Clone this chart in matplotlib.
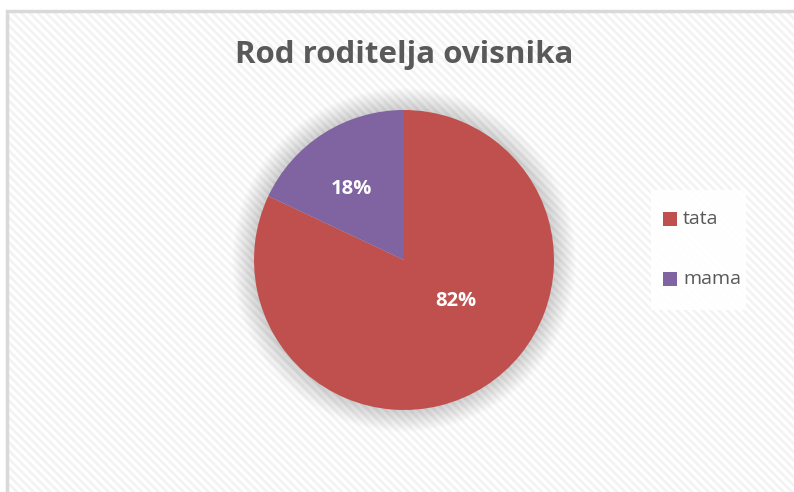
import matplotlib.pyplot as plt
from matplotlib.patches import Rectangle, Circle

labels = ['tata', 'mama']
values = [82, 18]
colors = ['#C0504D', '#8064A2']
title = 'Rod roditelja ovisnika'

plt.rcParams['font.family'] = ['Open Sans', 'DejaVu Sans']
plt.rcParams['hatch.linewidth'] = 2.0

fig = plt.figure(figsize=(7.94, 4.92), dpi=100)
ax = fig.add_axes([0, 0, 1, 1])
ax.set_xlim(0, 794)
ax.set_ylim(0, 492)
ax.axis('off')

# chart area with faint diagonal pattern and grey border
ax.add_patch(Rectangle((7, -10), 800, 492 - 11 + 10, facecolor='white',
                       edgecolor='#f3f3f3', linewidth=0, hatch='\\\\\\\\', zorder=0))
ax.add_patch(Rectangle((7, -10), 800, 492 - 11 + 10, facecolor='none',
                       edgecolor='#d9d9d9', linewidth=2.5, zorder=1))

cx, cy, r = 404, 232, 150

# soft shadow around pie
for i in range(24):
    ax.add_patch(Circle((cx, cy), r + 22 - i, facecolor='#000000',
                        alpha=0.009, edgecolor='none', zorder=2))

wedges, texts, autotexts = ax.pie(values, colors=colors, startangle=90,
                                  counterclock=False, center=(cx, cy), radius=r,
                                  autopct='%d%%', pctdistance=0.6,
                                  wedgeprops=dict(linewidth=0, zorder=3),
                                  textprops=dict(color='white', fontsize=14.5,
                                                 fontweight='bold'))
for t in autotexts:
    t.set_zorder(5)
autotexts[0].set_position((456, 492 - 301))
autotexts[1].set_position((351, 492 - 189))
ax.set_xlim(0, 794)
ax.set_ylim(0, 492)
ax.set_aspect('auto')

ax.text(404, 492 - 55, title, ha='center', va='center', fontsize=22.5,
        fontweight='bold', color='#595959')

# legend box
ax.add_patch(Rectangle((651, 492 - 310), 95, 120, facecolor='white',
                       edgecolor='none', alpha=0.95, zorder=3))
leg_y = [492 - 219, 492 - 279]
for lab, col, y in zip(labels, colors, leg_y):
    ax.add_patch(Rectangle((663, y - 7), 14, 14, facecolor=col,
                           edgecolor='none', zorder=4))
    ax.text(683, y, lab, ha='left', va='center', fontsize=14,
            color='#595959', zorder=4)

fig.savefig('out.png', dpi=100)
